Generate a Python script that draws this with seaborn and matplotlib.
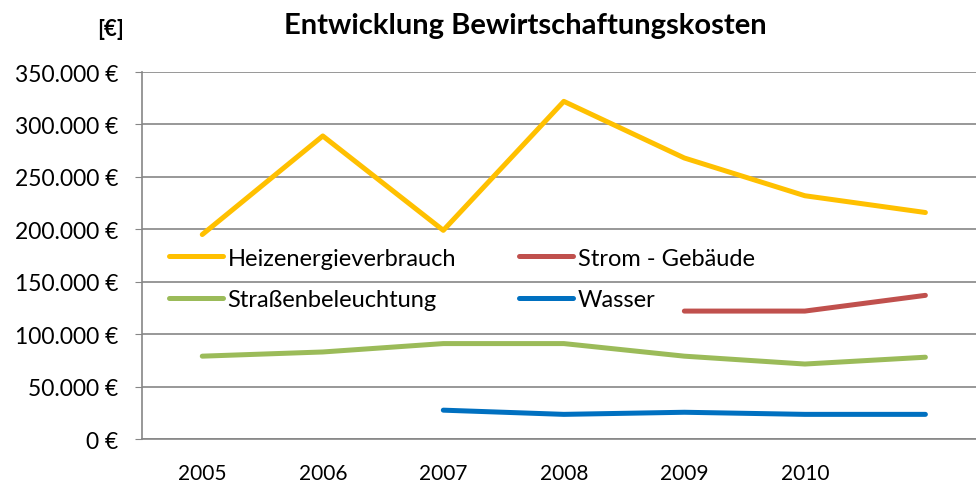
import matplotlib

matplotlib.use("Agg")
import matplotlib.pyplot as plt
import pandas
import seaborn as sns
from matplotlib.ticker import FuncFormatter

# Categories along the x axis (last category has no printed label)
years: list[str] = ["2005", "2006", "2007", "2008", "2009", "2010", ""]

# Series values in euro (None = no value for that year)
heizung: list = [195000, 289000, 199000, 322000, 268000, 232000, 216000]
strom: list = [None, None, None, None, 122000, 122000, 137000]
strasse: list = [79000, 83000, 91000, 91000, 79000, 71500, 78000]
wasser: list = [None, None, 27500, 23500, 25500, 23500, 23500]

series_names: list[str] = [
    "Heizenergieverbrauch",
    "Strom - Gebäude",
    "Straßenbeleuchtung",
    "Wasser",
]
series_values: list[list] = [heizung, strom, strasse, wasser]
colors: dict[str, str] = {
    "Heizenergieverbrauch": "#FFC000",
    "Strom - Gebäude": "#C0504D",
    "Straßenbeleuchtung": "#9BBB59",
    "Wasser": "#0070C0",
}

# Build long-form table for seaborn
rows: list[dict] = []
for name, values in zip(series_names, series_values):
    for pos, value in enumerate(values):
        if value is not None:
            rows.append({"pos": pos, "value": value, "series": name})
df = pandas.DataFrame(rows)

sns.set_style("white")
plt.rcParams["font.family"] = ["Lato", "DejaVu Sans"]
plt.rcParams["text.color"] = "black"
plt.rcParams["xtick.labelcolor"] = "black"
plt.rcParams["ytick.labelcolor"] = "black"

fig = plt.figure(figsize=(9.76, 4.89), dpi=100)
ax = fig.add_axes([0.1455, 0.1002, 0.8545, 0.7505])

sns.lineplot(
    data=df,
    x="pos",
    y="value",
    hue="series",
    hue_order=series_names,
    palette=colors,
    linewidth=3.6,
    ax=ax,
)

# Axis scales
ax.set_xlim(-0.5, 6.42)
ax.set_ylim(0, 350000)
ax.set_yticks(range(0, 350001, 50000))
ax.yaxis.set_major_formatter(
    FuncFormatter(lambda v, _: f"{int(v):,}".replace(",", ".") + " €")
)
ax.set_xticks(range(len(years)))
ax.set_xticklabels(years)
ax.set_xlabel("")
ax.set_ylabel("")

# Grid and spines like the spreadsheet chart
ax.grid(axis="y", color="#868686", linewidth=1.2)
ax.set_axisbelow(True)
for side in ["top", "right"]:
    ax.spines[side].set_visible(False)
for side in ["left", "bottom"]:
    ax.spines[side].set_color("#868686")
    ax.spines[side].set_linewidth(1.2)
ax.tick_params(axis="y", left=True, length=5, color="#868686",
               labelsize=16.5, pad=12, labelcolor="black")
ax.tick_params(axis="x", bottom=False, labelsize=15, pad=14, labelcolor="black")

# Legend: two columns, no frame
handles, labels = ax.get_legend_handles_labels()
order: list[int] = [0, 2, 1, 3]
ax.legend(
    [handles[i] for i in order],
    [labels[i] for i in order],
    ncol=2,
    frameon=False,
    fontsize=17,
    loc="upper left",
    bbox_to_anchor=(0.151, 0.535),
    bbox_transform=fig.transFigure,
    handlelength=2.3,
    handletextpad=0.2,
    columnspacing=2.65,
    labelspacing=0.88,
)

# Titles
fig.text(0.538, 0.947, "Entwicklung Bewirtschaftungskosten", ha="center",
         va="center", fontsize=21, fontweight="bold", color="black")
fig.text(0.113, 0.94, "[€]", ha="center", va="center", fontsize=16,
         fontweight="bold", color="black")

plt.savefig("out.png", dpi=100)
plt.close()
